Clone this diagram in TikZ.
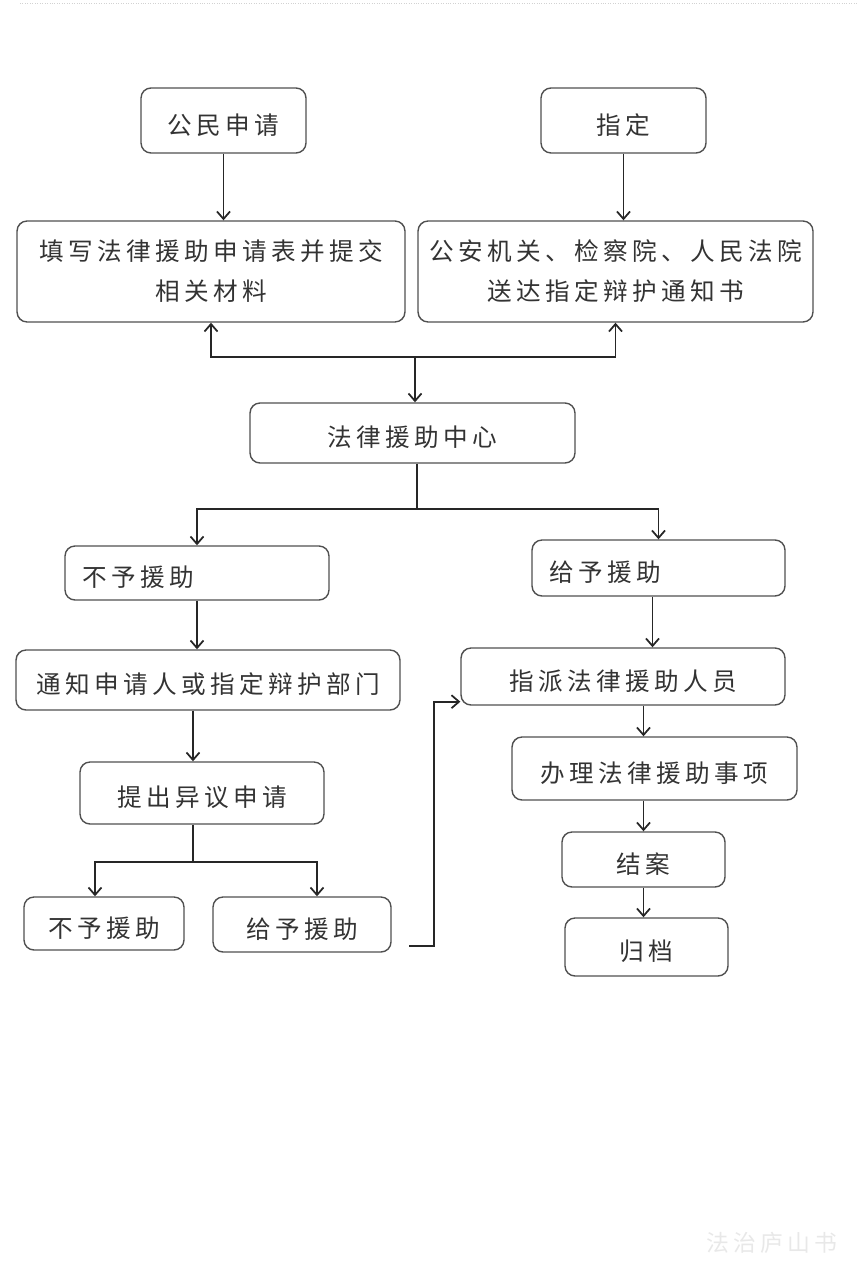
\documentclass[tikz,border=0pt]{standalone}
\usepackage{fontspec}
\newfontfamily\cjk[LetterSpace=18]{Noto Sans CJK SC}
\usetikzlibrary{arrows.meta,positioning}
\definecolor{boxline}{HTML}{505050}
\definecolor{txt}{HTML}{333333}
\tikzset{
  flowbox/.style={draw=boxline,line width=0.8pt,rounded corners=0.2cm,align=center,
    inner sep=0pt,text=txt,font=\cjk\fontsize{14}{22.8}\selectfont},
  onebox/.style={flowbox,text height=1.55em,text depth=0pt},
  leftbox/.style={onebox,align=left,inner xsep=0.34cm},
  link/.style={line width=1pt,draw=black!85,-{Straight Barb[length=1.5mm,width=2.6mm]}},
  line/.style={line width=1pt,draw=black!85}
}
\begin{document}
\begin{tikzpicture}[x=0.02cm,y=-0.02cm]
 \useasboundingbox (0,0) rectangle (857,1280);
 \draw[gray!35,densely dotted] (20,3)--(857,3);
 % top row
 \node[onebox,minimum width=3.3cm,minimum height=1.3cm] (pub) at (223.5,120.5) {公民申请};
 \node[onebox,minimum width=3.3cm,minimum height=1.3cm] (assign) at (623.5,120.5) {指定};
 \node[flowbox,minimum width=7.76cm,minimum height=2.02cm] (form) at (211,271.5)
   {填写法律援助申请表并提交\\相关材料};
 \node[flowbox,minimum width=7.9cm,minimum height=2.02cm] (notice) at (615.5,271.5)
   {公安机关、检察院、人民法院\\送达指定辩护通知书};
 \node[onebox,minimum width=6.5cm,minimum height=1.2cm] (center) at (412.5,433) {法律援助中心};
 % left branch
 \node[leftbox,text width=4.6cm,minimum height=1.08cm] (refuse) at (197,573) {不予援助};
 \node[onebox,minimum width=7.68cm,minimum height=1.2cm] (inform) at (208,680) {通知申请人或指定辩护部门};
 \node[onebox,minimum width=4.88cm,minimum height=1.24cm] (object) at (202,793) {提出异议申请};
 \node[onebox,minimum width=3.2cm,minimum height=1.06cm] (refuse2) at (104,923.5) {不予援助};
 \node[onebox,minimum width=3.56cm,minimum height=1.1cm] (grant2) at (302,924.5) {给予援助};
 % right branch
 \node[leftbox,text width=4.38cm,minimum height=1.12cm] (grant) at (658.5,568) {给予援助};
 \node[onebox,minimum width=6.48cm,minimum height=1.14cm] (appoint) at (623,676.5) {指派法律援助人员};
 \node[onebox,minimum width=5.7cm,minimum height=1.26cm] (handle) at (654.5,768.5) {办理法律援助事项};
 \node[onebox,minimum width=3.26cm,minimum height=1.1cm] (close) at (643.5,859.5) {结案};
 \node[onebox,minimum width=3.26cm,minimum height=1.16cm] (archive) at (646.5,947) {归档};
 \node[text=gray!18,font=\cjk\fontsize{13}{13}\selectfont] (mark) at (772,1243) {法治庐山书};

 % connectors
 \coordinate (j1) at (415,357);
 \coordinate (j2) at (417,509);
 \coordinate (j3) at (193,862);
 \coordinate (g0) at (409,946);
 \coordinate (g1) at (434,946);
 \draw[link] (pub) -- (pub |- form.north);
 \draw[link] (assign) -- (assign |- notice.north);
 \draw[line,{Straight Barb[length=1.5mm,width=2.6mm]}-{Straight Barb[length=1.5mm,width=2.6mm]}]
   (form.south) |- (j1) -| (notice.south);
 \draw[link] (j1) -- (j1 |- center.north);
 \draw[line] (center.south -| j2) -- (j2);
 \draw[link] (j2) -| (refuse.north);
 \draw[link] (j2) -| (grant.north);
 \draw[link] (refuse.south) -- (refuse.south |- inform.north);
 \draw[link] (inform.south -| j3) -- (object.north -| j3);
 \draw[line] (object.south -| j3) -- (j3);
 \draw[link] (j3) -| ([xshift=-0.18cm]refuse2.north);
 \draw[link] (j3) -| ([xshift=0.3cm]grant2.north);
 \draw[link] (g0) -- (g1) |- ([yshift=0.08cm]appoint.south west);
 \draw[link] ([xshift=-0.12cm]grant.south) -- ([xshift=-0.12cm]grant.south |- appoint.north);
 \foreach \a/\b in {appoint/handle,handle/close,close/archive}
   \draw[link] (\a.south -| close) -- (\b.north -| close);
\end{tikzpicture}
\end{document}
